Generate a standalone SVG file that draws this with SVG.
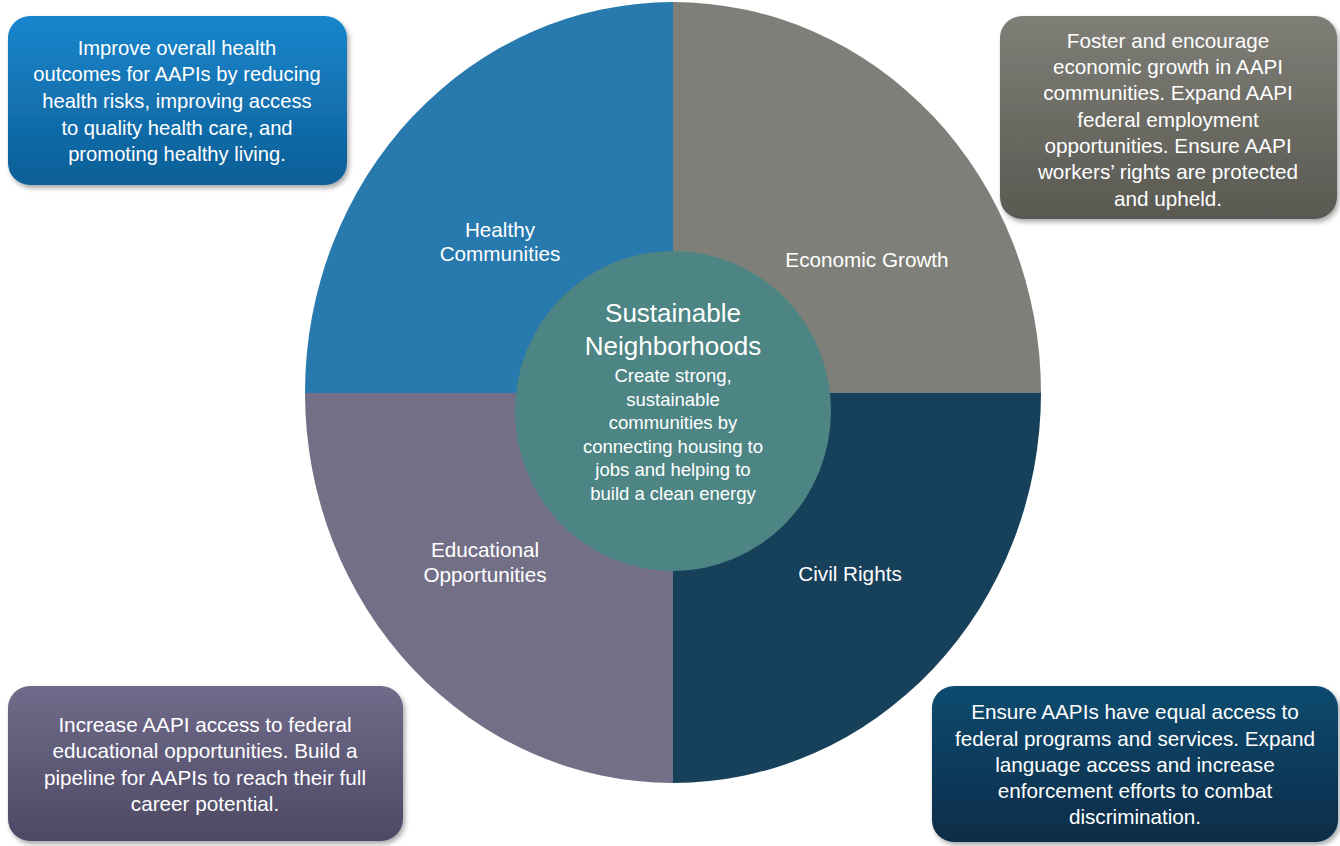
<svg xmlns="http://www.w3.org/2000/svg" width="1340" height="846" viewBox="0 0 1340 846">
<style>
text{font-family:"Liberation Sans",Arial,sans-serif;fill:#ffffff;text-anchor:middle}
.box{font-size:20.7px}
.box1{font-size:20.2px}
.lbl{font-size:20.7px}
.title{font-size:26px}
.body{font-size:18.5px}
</style>
<defs>
<filter id="sh" x="-10%" y="-10%" width="125%" height="130%">
<feDropShadow dx="2" dy="3" stdDeviation="2.5" flood-color="#000" flood-opacity="0.35"/>
</filter>
<linearGradient id="gBlue" x1="0" y1="0" x2="0" y2="1"><stop offset="0" stop-color="#1886CC"/><stop offset="1" stop-color="#0D5E96"/></linearGradient>
<linearGradient id="gGray" x1="0" y1="0" x2="0" y2="1"><stop offset="0" stop-color="#7F7F78"/><stop offset="1" stop-color="#595952"/></linearGradient>
<linearGradient id="gPurp" x1="0" y1="0" x2="0" y2="1"><stop offset="0" stop-color="#706B8A"/><stop offset="1" stop-color="#4D4964"/></linearGradient>
<linearGradient id="gNavy" x1="0" y1="0" x2="0" y2="1"><stop offset="0" stop-color="#0C4B70"/><stop offset="1" stop-color="#082C47"/></linearGradient>
<clipPath id="oc"><ellipse cx="673" cy="392.5" rx="368" ry="390.5"/></clipPath>
</defs>
<g id="wheel" clip-path="url(#oc)">
<rect x="300" y="0" width="373" height="393" fill="#2879AD"/>
<rect x="673" y="0" width="373" height="393" fill="#7F7F7A"/>
<rect x="300" y="393" width="373" height="395" fill="#736F86"/>
<rect x="673" y="393" width="373" height="395" fill="#17405A"/>
</g>
<g id="q-healthy"><text class="lbl" x="500" y="237">Healthy</text><text class="lbl" x="500" y="261">Communities</text></g>
<g id="q-economic"><text class="lbl" x="867" y="267">Economic Growth</text></g>
<g id="q-educational"><text class="lbl" x="485" y="557">Educational</text><text class="lbl" x="485" y="582">Opportunities</text></g>
<g id="q-civil"><text class="lbl" x="850" y="581">Civil Rights</text></g>
<g id="center">
<ellipse cx="673" cy="411" rx="158" ry="160" fill="#4D8584"/>
<text class="title" x="673" y="322">Sustainable</text>
<text class="title" x="673" y="355">Neighborhoods</text>
<text class="body" x="673" y="382">Create strong,</text>
<text class="body" x="673" y="406">sustainable</text>
<text class="body" x="673" y="429">communities by</text>
<text class="body" x="673" y="453">connecting housing to</text>
<text class="body" x="673" y="476">jobs and helping to</text>
<text class="body" x="673" y="500">build a clean energy</text>
</g>
<g id="box-healthy">
<rect x="8" y="16" width="339" height="169" rx="22" fill="url(#gBlue)" filter="url(#sh)"/>
<text class="box1" x="177" y="55">Improve overall health</text>
<text class="box1" x="177" y="81">outcomes for AAPIs by reducing</text>
<text class="box1" x="177" y="108">health risks, improving access</text>
<text class="box1" x="177" y="135">to quality health care, and</text>
<text class="box1" x="177" y="161">promoting healthy living.</text>
</g>
<g id="box-economic">
<rect x="1000" y="16" width="337" height="203" rx="22" fill="url(#gGray)" filter="url(#sh)"/>
<text class="box" x="1168" y="48">Foster and encourage</text>
<text class="box" x="1168" y="74">economic growth in AAPI</text>
<text class="box" x="1168" y="100">communities. Expand AAPI</text>
<text class="box" x="1168" y="127">federal employment</text>
<text class="box" x="1168" y="153">opportunities. Ensure AAPI</text>
<text class="box" x="1168" y="179">workers’ rights are protected</text>
<text class="box" x="1168" y="206">and upheld.</text>
</g>
<g id="box-educational">
<rect x="8" y="686" width="395" height="155" rx="22" fill="url(#gPurp)" filter="url(#sh)"/>
<text class="box" x="205" y="732">Increase AAPI access to federal</text>
<text class="box" x="205" y="758">educational opportunities. Build a</text>
<text class="box" x="205" y="785">pipeline for AAPIs to reach their full</text>
<text class="box" x="205" y="811">career potential.</text>
</g>
<g id="box-civil">
<rect x="932" y="686" width="406" height="156" rx="22" fill="url(#gNavy)" filter="url(#sh)"/>
<text class="box" x="1135" y="719">Ensure AAPIs have equal access to</text>
<text class="box" x="1135" y="746">federal programs and services. Expand</text>
<text class="box" x="1135" y="772">language access and increase</text>
<text class="box" x="1135" y="798">enforcement efforts to combat</text>
<text class="box" x="1135" y="824">discrimination.</text>
</g>
<g id="connectors"/>
</svg>
